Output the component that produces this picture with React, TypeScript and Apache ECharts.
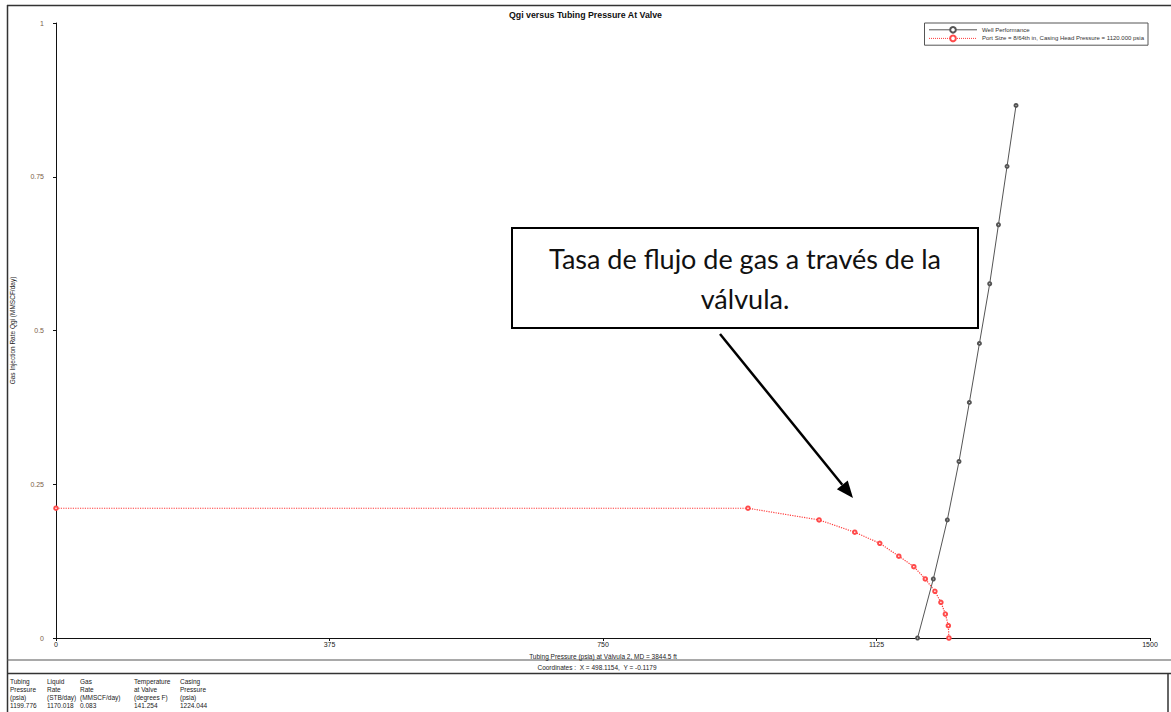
import { useEffect, useRef } from 'react';
import * as echarts from 'echarts';

const titleText = 'Qgi versus Tubing Pressure At Valve';
const xAxisName = 'Tubing Pressure (psia) at Válvula 2, MD = 3844.5 ft';
const yAxisName = 'Gas Injection Rate Qgi (MMSCF/day)';
const seriesNames = ['Well Performance', 'Port Size = 8/64th in, Casing Head Pressure = 1120.000 psia'];

const wellPressure = [1181.3, 1202.9, 1222.1, 1238.1, 1252.3, 1266.1, 1280.2, 1292.2, 1304.0, 1316.3];
const wellRate = [0, 0.096, 0.192, 0.287, 0.383, 0.479, 0.576, 0.672, 0.767, 0.866];

const valvePressure = [0, 948.8, 1046.3, 1095.2, 1129.5, 1155.6, 1176.2, 1191.9, 1205.1, 1213.3, 1219.4, 1223.5, 1224.3];
const valveRate = [0.211, 0.211, 0.192, 0.172, 0.154, 0.133, 0.116, 0.096, 0.076, 0.058, 0.039, 0.02, 0];

const coordinatesText = 'Coordinates :  X = 498.1154,  Y = -0.1179';
const tableColumns = [
  ['Tubing', 'Pressure', '(psia)', '1199.776'],
  ['Liquid', 'Rate', '(STB/day)', '1170.018'],
  ['Gas', 'Rate', '(MMSCF/day)', '0.083'],
  ['Temperature', 'at Valve', '(degrees F)', '141.254'],
  ['Casing', 'Pressure', '(psia)', '1224.044'],
];
const calloutLines = ['Tasa de flujo de gas a través de la', 'válvula.'];

export default function App() {
  const ref = useRef<HTMLDivElement>(null);
  useEffect(() => {
    if (!ref.current) return;
    const chart = echarts.init(ref.current, undefined, { renderer: 'svg' });
    const font = 'Liberation Sans, Arial, sans-serif';
    const colX = [10, 47, 80, 134, 180];
    const rowY = [681, 689, 697, 705];
    const tableEls: any[] = [];
    tableColumns.forEach((col, ci) => {
      col.forEach((t, ri) => {
        tableEls.push({
          type: 'text', x: colX[ci], y: rowY[ri],
          style: { text: t, fontSize: 6.5, fontFamily: font, fill: '#222', textVerticalAlign: 'middle' },
        });
      });
    });
    const tip = [853, 498];
    const start = [720, 334];
    const dx = tip[0] - start[0], dy = tip[1] - start[1];
    const len = Math.sqrt(dx * dx + dy * dy);
    const ux = dx / len, uy = dy / len;
    const hl = 17, hw = 7;
    const bx = tip[0] - ux * hl, by = tip[1] - uy * hl;
    const calloutFont = 'Lato, Liberation Sans, sans-serif';
    chart.setOption({
      animation: false,
      backgroundColor: '#fff',
      textStyle: { fontFamily: font },
      title: {
        text: titleText, left: 'center', top: 5,
        textStyle: { fontSize: 8.8, fontWeight: 'bold', color: '#111', fontFamily: font },
      },
      legend: {
        orient: 'vertical', right: 23, top: 23,
        borderColor: '#555', borderWidth: 1, padding: [3, 4], itemGap: 1,
        itemWidth: 48, itemHeight: 7, backgroundColor: '#fff',
        lineStyle: { width: 1 },
        itemStyle: { borderWidth: 0.8 },
        textStyle: { fontSize: 6, color: '#333', fontFamily: font },
        data: seriesNames,
      },
      grid: { left: 56, right: 21, top: 23, bottom: 74 },
      xAxis: {
        type: 'value', min: 0, max: 1500, interval: 375,
        name: xAxisName, nameLocation: 'middle', nameGap: 12,
        nameTextStyle: { fontSize: 6.5, color: '#222' },
        axisLine: { lineStyle: { color: '#111', width: 1 } },
        axisTick: { show: true, length: 3, lineStyle: { color: '#111' } },
        axisLabel: { fontSize: 7, color: '#222', margin: 3, formatter: (v: number) => String(v) },
        splitLine: { show: false },
      },
      yAxis: {
        type: 'value', min: 0, max: 1, interval: 0.25,
        name: yAxisName, nameLocation: 'middle', nameGap: 40, nameRotate: 90,
        nameTextStyle: { fontSize: 6.5, color: '#222' },
        axisLine: { show: true, lineStyle: { color: '#111', width: 1 } },
        axisTick: { show: true, length: 3, lineStyle: { color: '#111' } },
        axisLabel: { fontSize: 7, color: '#7a6048', margin: 12, formatter: (v: number) => String(v) },
        splitLine: { show: false },
      },
      series: [
        {
          name: seriesNames[0], type: 'line',
          data: wellPressure.map((p, i) => [p, wellRate[i]]),
          lineStyle: { color: '#555', width: 1 },
          itemStyle: { color: '#555', borderColor: '#555', borderWidth: 0.8 },
          symbol: 'emptyCircle', symbolSize: 3, z: 3,
        },
        {
          name: seriesNames[1], type: 'line',
          data: valvePressure.map((p, i) => [p, valveRate[i]]),
          lineStyle: { color: '#ff3b3b', width: 1.2, type: 'dotted' },
          itemStyle: { color: '#ff4a4a', borderColor: '#ff4a4a', borderWidth: 0.8 },
          symbol: 'emptyCircle', symbolSize: 3.5, z: 2,
        },
      ],
      graphic: [
        { type: 'line', shape: { x1: 7, y1: 5.5, x2: 1171, y2: 5.5 }, style: { stroke: '#333', lineWidth: 1.5 } },
        { type: 'line', shape: { x1: 7.5, y1: 5, x2: 7.5, y2: 712 }, style: { stroke: '#333', lineWidth: 1.5 } },
        { type: 'line', shape: { x1: 7, y1: 660, x2: 1171, y2: 660 }, style: { stroke: '#555', lineWidth: 1.2 } },
        { type: 'line', shape: { x1: 7, y1: 673.5, x2: 1171, y2: 673.5 }, style: { stroke: '#333', lineWidth: 1.5 } },
        { type: 'line', shape: { x1: 1168, y1: 673, x2: 1168, y2: 712 }, style: { stroke: '#333', lineWidth: 1.5 } },
        {
          type: 'text', x: 597, y: 667,
          style: { text: coordinatesText, fontSize: 6.5, fontFamily: font, fill: '#222', textAlign: 'center', textVerticalAlign: 'middle' },
        },
        ...tableEls,
        {
          type: 'rect', shape: { x: 512, y: 228, width: 466, height: 100 },
          style: { fill: '#fff', stroke: '#000', lineWidth: 2 }, z: 10,
        },
        {
          type: 'text', x: 745, y: 258, z: 11,
          style: { text: calloutLines[0], fontSize: 27, fontFamily: calloutFont, fill: '#111', textAlign: 'center', textVerticalAlign: 'middle' },
        },
        {
          type: 'text', x: 745, y: 298, z: 11,
          style: { text: calloutLines[1], fontSize: 27, fontFamily: calloutFont, fill: '#111', textAlign: 'center', textVerticalAlign: 'middle' },
        },
        {
          type: 'line', z: 10, shape: { x1: start[0], y1: start[1], x2: bx, y2: by },
          style: { stroke: '#000', lineWidth: 2.5 },
        },
        {
          type: 'polygon', z: 10,
          shape: { points: [[tip[0], tip[1]], [bx - uy * hw, by + ux * hw], [bx + uy * hw, by - ux * hw]] },
          style: { fill: '#000' },
        },
      ],
    });
    return () => chart.dispose();
  }, []);
  return <div ref={ref} style={{ position: 'fixed', left: 0, top: 0, width: 1171, height: 712, background: '#fff' }} />;
}
